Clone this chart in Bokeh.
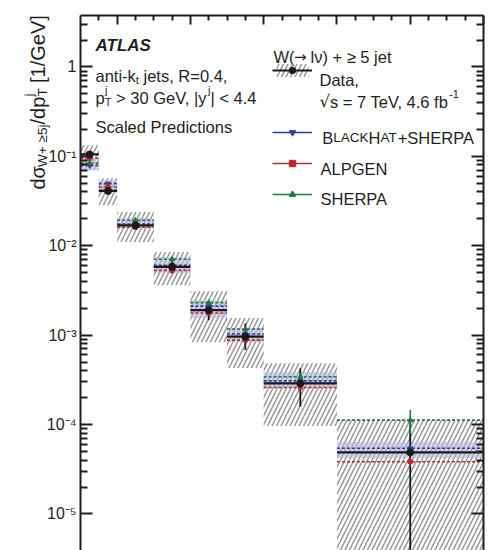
import math
from bokeh.plotting import figure
from bokeh.models import (Range1d, LogAxis, FixedTicker, Label, Legend, LegendItem,
                          CustomJSTickFormatter, ColumnDataSource)
from bokeh.core.properties import value
from bokeh.embed import file_html
from bokeh.resources import INLINE

# ---------------- data ----------------
bin_lo = [30, 50, 70, 110, 150, 190, 230, 310]
bin_hi = [50, 70, 110, 150, 190, 230, 310, 470]

data_val = [0.105, 0.041, 0.0169, 0.0058, 0.0019, 0.00096, 0.000288, 4.89e-5]
data_stat_lo = [0.101, 0.038, 0.0155, 0.00493, 0.00147, 0.00068, 0.000158, 1e-6]
data_stat_hi = [0.109, 0.044, 0.0183, 0.00676, 0.00228, 0.00135, 0.000425, 1.09e-4]
data_sys_lo = [0.0698, 0.0284, 0.0110, 0.00362, 0.000835, 0.000428, 9.6e-5, 1e-6]
data_sys_hi = [0.1327, 0.0568, 0.0239, 0.00853, 0.00310, 0.00155, 0.000486, 0.000112]

bh_val = [0.079, 0.0495, 0.0175, 0.00605, 0.00211, 0.00103, 0.000308, 5.42e-5]
bh_band_lo = [0.0698, 0.0386, 0.0157, 0.00493, 0.00155, 0.000835, 0.000256, 4.22e-5]
bh_band_hi = [0.095, 0.054, 0.0203, 0.0075, 0.00246, 0.0012, 0.000386, 6.43e-5]
bh_err = [0.003, 0.002, 0.0006, 0.0003, 0.0001, 6e-5, 2e-5, 5e-6]

alp_val = [0.095, 0.0454, 0.0161, 0.0053, 0.00177, 0.00088, 0.00026, 3.84e-5]
alp_err = [0.003, 0.002, 0.0007, 0.0004, 0.00012, 6e-5, 2e-5, 4e-6]

sh_val = [0.0835, 0.0416, 0.0193, 0.00707, 0.00231, 0.00117, 0.000342, 0.000112]
sh_err = [0.003, 0.002, 0.001, 0.0004, 0.00015, 8e-5, 3e-5, 3.3e-5]

x_min, x_max = 30, 470
y_min_shown, y_max = 3.9e-6, 3.76
x_major_ticks = [70, 150, 230, 310, 390, 470]
x_minor_ticks = [50, 90, 110, 130, 170, 190, 210, 250, 270, 290, 330, 350, 370, 410, 430, 450]
y_major_ticks = [1e-5, 1e-4, 1e-3, 1e-2, 1e-1, 1.0]

# ---------------- styling / layout ----------------
FONT = "Liberation Sans"
SYM = "DejaVu Sans"
TXT = "#1f1f1f"
BLUE = "#2b3f9e"
RED = "#c0272d"
GREEN = "#1c7d3c"
HATCH = "#979797"
BAND = "#b8b8e2"

W, H = 490, 550
FRAME_L, FRAME_R, FRAME_T = 80, 483, 15      # where the axes box sits on the page

# the plotting frame covers the whole canvas; the axes are drawn at fixed locations
KX = (x_max - x_min) / (FRAME_R - FRAME_L)
X_START = x_min - FRAME_L * KX
X_END = x_max + (W - FRAME_R) * KX
LOG_TOP = math.log10(y_max)
LOG_BOT = math.log10(y_min_shown)
DEC_PX = (H - FRAME_T) / (LOG_TOP - LOG_BOT)
Y_END = 10 ** (LOG_TOP + FRAME_T / DEC_PX)
Y_START = y_min_shown


def dx(px):
    return X_START + px * KX


def dy(py):
    return 10 ** (LOG_TOP + (FRAME_T - py) / DEC_PX)


centers = [(a + b) / 2 for a, b in zip(bin_lo, bin_hi)]
src = ColumnDataSource(dict(
    lo=bin_lo, hi=bin_hi, x=centers,
    data=data_val, st_lo=data_stat_lo, st_hi=data_stat_hi,
    sy_lo=data_sys_lo, sy_hi=data_sys_hi,
    bh=bh_val, bh_blo=bh_band_lo, bh_bhi=bh_band_hi,
    bh_elo=[v - e for v, e in zip(bh_val, bh_err)], bh_ehi=[v + e for v, e in zip(bh_val, bh_err)],
    alp=alp_val,
    alp_elo=[v - e for v, e in zip(alp_val, alp_err)], alp_ehi=[v + e for v, e in zip(alp_val, alp_err)],
    sh=sh_val,
    sh_elo=[v - e for v, e in zip(sh_val, sh_err)], sh_ehi=[v + e for v, e in zip(sh_val, sh_err)],
))

p = figure(width=W, height=H, x_range=Range1d(X_START, X_END), y_range=Range1d(Y_START, Y_END),
           y_axis_type="log", x_axis_location="above",
           output_backend="svg", toolbar_location=None,
           min_border_left=0, min_border_top=0, min_border_right=0, min_border_bottom=0)
p.outline_line_color = None
p.grid.visible = False
p.background_fill_color = "white"
p.border_fill_color = "white"

blank = CustomJSTickFormatter(code="return '';")

xa = p.xaxis[0]
xa.fixed_location = y_max
xa.bounds = (x_min, x_max)
xa.ticker = FixedTicker(ticks=x_major_ticks, minor_ticks=x_minor_ticks)
xa.formatter = blank
xa.major_label_text_font_size = "2px"
xa.major_label_standoff = 0
xa.major_tick_out = 0
xa.major_tick_in = 9
xa.minor_tick_out = 0
xa.minor_tick_in = 5

y_minor = [m * t for t in y_major_ticks[:-1] for m in range(2, 10)] + [2.0, 3.0]
fmt = CustomJSTickFormatter(code="""
const e = Math.round(Math.log10(tick));
if (e === 0) { return "1"; }
const sup = {"-": "\\u207b", "0": "\\u2070", "1": "\\u00b9", "2": "\\u00b2", "3": "\\u00b3",
             "4": "\\u2074", "5": "\\u2075", "6": "\\u2076", "7": "\\u2077", "8": "\\u2078", "9": "\\u2079"};
return "10" + String(e).split("").map(c => sup[c]).join("");
""")

ya = p.yaxis[0]
ya.fixed_location = x_min
ya.bounds = (Y_START, y_max)
ya.ticker = FixedTicker(ticks=y_major_ticks, minor_ticks=y_minor)
ya.formatter = fmt
ya.major_label_text_font = FONT
ya.major_label_text_font_size = "16px"
ya.major_label_text_color = TXT
ya.major_label_standoff = 4

ry = LogAxis(ticker=FixedTicker(ticks=y_major_ticks, minor_ticks=y_minor))
ry.fixed_location = x_max
ry.bounds = (Y_START, y_max)
ry.formatter = blank
ry.major_label_text_font_size = "2px"
ry.major_label_standoff = 0
p.add_layout(ry, "right")

for ax in [ya, ry]:
    ax.major_tick_out = 0
    ax.major_tick_in = 12
    ax.minor_tick_out = 0
    ax.minor_tick_in = 7
for ax in [xa, ya, ry]:
    ax.axis_line_width = 2
    ax.major_tick_line_width = 2
    ax.minor_tick_line_width = 2
    ax.axis_line_color = TXT
    ax.major_tick_line_color = TXT
    ax.minor_tick_line_color = TXT

# ---------------- glyphs ----------------
r_sys = p.quad(left="lo", right="hi", bottom="sy_lo", top="sy_hi", source=src,
               fill_color=None, line_color=None,
               hatch_pattern="/", hatch_color=HATCH, hatch_scale=9, hatch_weight=1.5)
p.quad(left="lo", right="hi", bottom="bh_blo", top="bh_bhi", source=src,
       fill_color=BAND, fill_alpha=0.6, line_color=None)

p.segment(x0="lo", x1="hi", y0="sh", y1="sh", source=src, line_color=GREEN, line_dash="3 2", line_width=1.6)
p.segment(x0="lo", x1="hi", y0="bh", y1="bh", source=src, line_color=BLUE, line_dash="3 2", line_width=1.6)
p.segment(x0="lo", x1="hi", y0="alp", y1="alp", source=src, line_color=RED, line_dash="3 2", line_width=1.6)

r_dline = p.segment(x0="lo", x1="hi", y0="data", y1="data", source=src, line_color="#1a1a1a", line_width=2.2)
p.segment(x0="x", x1="x", y0="st_lo", y1="st_hi", source=src, line_color="#1a1a1a", line_width=1.8)

r_bh_e = p.segment(x0="x", x1="x", y0="bh_elo", y1="bh_ehi", source=src, line_color=BLUE, line_width=1.5)
r_alp_e = p.segment(x0="x", x1="x", y0="alp_elo", y1="alp_ehi", source=src, line_color=RED, line_width=1.5)
r_sh_e = p.segment(x0="x", x1="x", y0="sh_elo", y1="sh_ehi", source=src, line_color=GREEN, line_width=1.5)
r_bh_m = p.scatter(x="x", y="bh", source=src, marker="inverted_triangle", size=5, color=BLUE)
r_alp_m = p.scatter(x="x", y="alp", source=src, marker="square", size=4, color=RED)
r_sh_m = p.scatter(x="x", y="sh", source=src, marker="triangle", size=5, color=GREEN)

r_dpt = p.scatter(x="x", y="data", source=src, marker="circle", size=7, color="#1a1a1a")

# ---------------- legends (glyphs only; texts as labels) ----------------
def make_legend(items, loc):
    lg = Legend(items=items, location=loc, glyph_width=40, glyph_height=16,
                label_height=16, label_width=1, label_standoff=0, padding=0, margin=0,
                spacing=15, border_line_color=None, background_fill_alpha=0,
                label_text_font_size="10px")
    p.add_layout(lg)

make_legend([LegendItem(label="", renderers=[r_sys, r_dline, r_dpt])], (272, H - 78))
make_legend([LegendItem(label="", renderers=[r_bh_e, r_bh_m]),
             LegendItem(label="", renderers=[r_alp_e, r_alp_m]),
             LegendItem(label="", renderers=[r_sh_e, r_sh_m])], (272, H - 202))

# ---------------- texts ----------------
def put(text, px, py, size, style="normal", font=FONT):
    p.add_layout(Label(x=px, y=H - py, x_units="screen", y_units="screen",
                       text=text, text_font=font, text_font_size=f"{size}px",
                       text_font_style=style, text_color=TXT,
                       text_baseline="alphabetic", text_align="left"))

put("ATLAS", 95, 45, 17, "bold italic")
put("anti-k", 95, 75, 16.5)
put("t", 135.3, 79, 11)
put("jets, R=0.4,", 143, 75, 16.5)
put("p", 95, 97, 16.5)
put("T", 104.2, 101, 11)
put("j", 104.5, 89, 11)
put("> 30 GeV, |y", 115.6, 97, 16.5)
put("j", 207.4, 89, 11)
put("| < 4.4", 210, 97, 16.5)
put("Scaled Predictions", 95, 126, 16.5)

put("W(", 273, 56, 16.5)
put("\u2192", 293.5, 56, 15, font=SYM)
put("l\u03bd) + \u2265 5 jet", 310, 56, 16.5)
put("Data,", 319, 79, 16.5)
put("\u221a", 319, 101, 16.5, font=SYM)
put("s = 7 TeV, 4.6 fb", 329.5, 101, 16.5)
put("-1", 448.5, 93, 11)
put("B", 321.7, 137, 16.5)
put("LACK", 332.7, 137, 13.5)
put("H", 368.0, 137, 16.5)
put("AT", 379.9, 137, 13.5)
put("+SHERPA", 397.2, 137, 16.5)
put("ALPGEN", 320, 168, 16.5)
put("SHERPA", 320, 198, 16.5)

# rotated y-axis title (text glyphs placed in page pixels via dx/dy)
A = math.pi / 2
title_pieces = [
    # text, x (baseline), y (start), size
    ("d\u03c3", 37, 189, 20),
    ("W+ \u22655j", 42, 166.4, 13.5),
    ("/dp", 37, 124, 20),
    ("T", 42, 96, 13.5),
    ("j", 28, 96, 13.5),
    ("[1/GeV]", 37, 82.5, 20),
]
for t, x, y, s in title_pieces:
    p.text(x=[dx(x)], y=[dy(y)], text=[t], angle=A, text_font=value(FONT),
           text_font_size=value(f"{s}px"), text_color=TXT,
           text_baseline="alphabetic", text_align="left")

open("out.html", "w").write(file_html(p, INLINE))
